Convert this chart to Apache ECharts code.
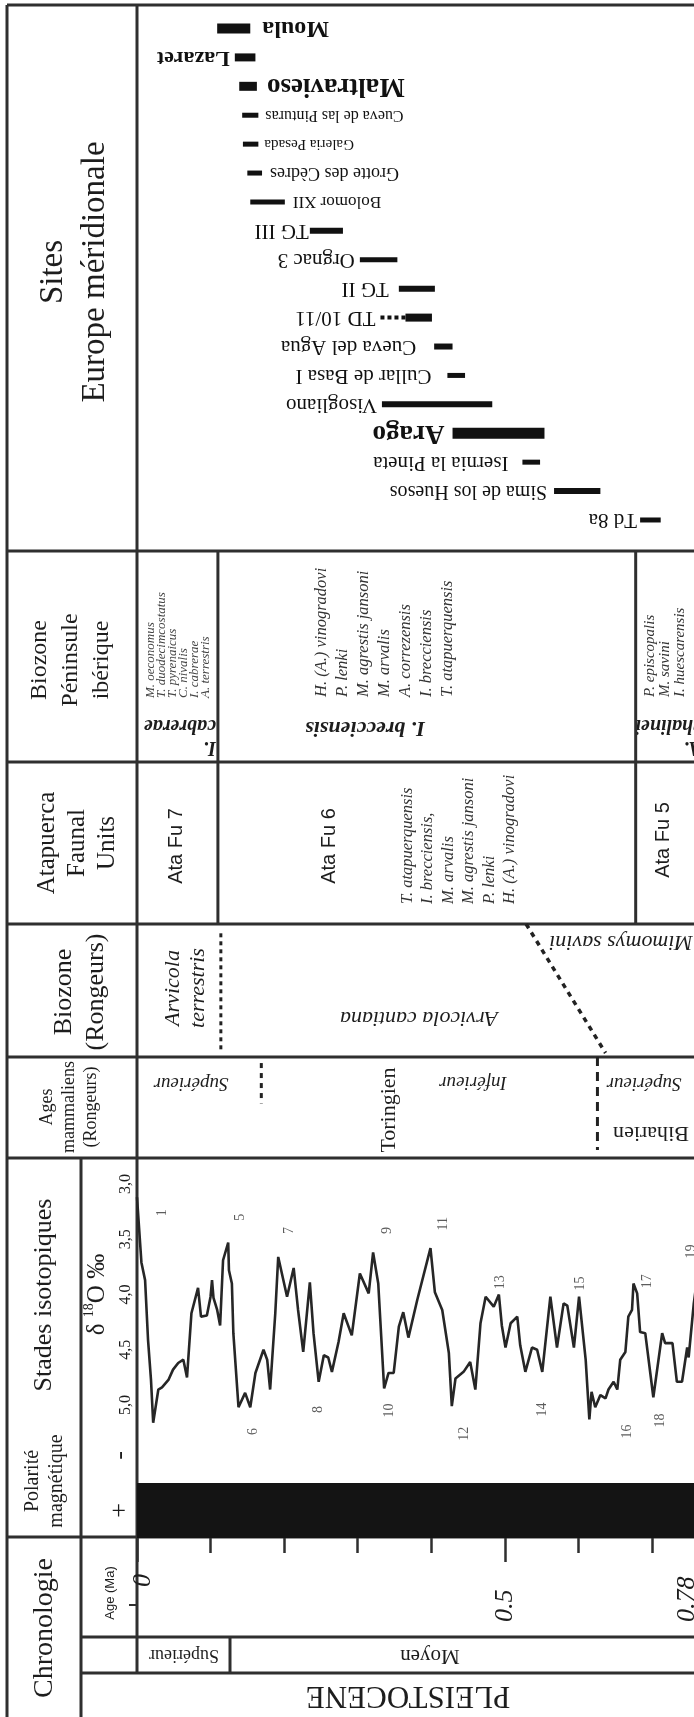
<!DOCTYPE html>
<html>
<head>
<meta charset="utf-8">
<title>Chronologie, biozones et sites du Pléistocène moyen</title>
<script src="https://cdn.jsdelivr.net/npm/echarts@6.0.0/dist/echarts.min.js"></script>
<style>
  html, body { margin: 0; padding: 0; background: #fff; }
  #chart { width: 694px; height: 1717px; }
</style>
</head>
<body>
<div id="chart"></div>
<script>
// ---------- values (ages in Ma) ----------
const siteNames = ['Moula', 'Lazaret', 'Maltravieso', 'Cueva de las Pinturas', 'Galeria Pesada',
  'Grotte des Cèdres', 'Bolomor XII', 'TG III', 'Orgnac 3', 'TG II', 'TD 10/11', 'Cueva del Agua',
  'Cullar de Basa I', 'Visogliano', 'Arago', 'Isernia la Pineta', 'Sima de los Huesos', 'Td 8a'];
const siteStart = [0.109, 0.133, 0.139, 0.143, 0.144, 0.150, 0.154, 0.235, 0.303, 0.356, 0.365, 0.404,
  0.422, 0.333, 0.429, 0.524, 0.567, 0.684];
const siteEnd = [0.154, 0.161, 0.163, 0.165, 0.165, 0.170, 0.201, 0.280, 0.354, 0.405, 0.401, 0.429,
  0.446, 0.483, 0.554, 0.548, 0.630, 0.712];
// uncertain (dashed) older extension
const siteDashedFrom = [null, null, null, null, null, null, null, null, null, null, 0.331, null,
  null, null, null, null, null, null];

// delta 18O curve
const isoAge = [0.000, 0.006, 0.011, 0.015, 0.019, 0.022, 0.029, 0.034, 0.043, 0.049,
  0.056, 0.063, 0.068, 0.074, 0.083, 0.087, 0.095, 0.100, 0.102, 0.104,
  0.109, 0.113, 0.117, 0.124, 0.125, 0.129, 0.131, 0.138, 0.147, 0.154,
  0.161, 0.172, 0.177, 0.181, 0.188, 0.192, 0.204, 0.213, 0.219, 0.226,
  0.235, 0.240, 0.247, 0.254, 0.260, 0.265, 0.274, 0.281, 0.292, 0.303,
  0.315, 0.321, 0.328, 0.336, 0.342, 0.349, 0.356, 0.362, 0.369, 0.381,
  0.399, 0.405, 0.415, 0.424, 0.428, 0.433, 0.444, 0.453, 0.460, 0.467,
  0.474, 0.485, 0.492, 0.496, 0.501, 0.508, 0.517, 0.521, 0.528, 0.537,
  0.544, 0.551, 0.562, 0.571, 0.580, 0.585, 0.594, 0.601, 0.610, 0.615,
  0.618, 0.623, 0.630, 0.637, 0.641, 0.648, 0.653, 0.657, 0.664, 0.668,
  0.673, 0.675, 0.680, 0.684, 0.691, 0.702, 0.714, 0.718, 0.728, 0.734,
  0.741, 0.748, 0.750, 0.757, 0.763];
const isoDelta = [3.12, 3.71, 3.87, 4.41, 4.77, 5.16, 4.86, 4.84, 4.77, 4.68,
  4.62, 4.59, 4.75, 4.17, 3.94, 4.20, 4.19, 4.02, 3.87, 4.03,
  4.14, 4.28, 3.69, 3.53, 3.78, 3.90, 4.35, 5.02, 4.89, 5.02,
  4.71, 4.50, 4.59, 4.86, 4.17, 3.66, 4.02, 3.76, 4.14, 4.52,
  3.89, 4.35, 4.79, 4.55, 4.57, 4.70, 4.43, 4.17, 4.37, 3.81,
  3.99, 3.62, 3.90, 4.85, 4.71, 4.71, 4.29, 4.16, 4.39, 4.05,
  3.58, 3.98, 4.14, 4.53, 5.01, 4.76, 4.70, 4.61, 4.86, 4.26,
  4.02, 4.11, 4.00, 4.28, 4.48, 4.26, 4.20, 4.46, 4.70, 4.48,
  4.50, 4.70, 4.02, 4.48, 4.08, 4.10, 4.48, 4.02, 4.59, 5.13,
  4.88, 5.02, 4.91, 4.94, 4.86, 4.79, 4.86, 4.59, 4.52, 4.20,
  4.14, 3.90, 3.99, 4.34, 4.35, 4.93, 4.35, 4.44, 4.44, 4.79,
  4.79, 4.48, 4.57, 4.08, 3.78];

// marine isotope stage numbers and where they are written
const stageNums = ['1', '5', '6', '7', '8', '9', '10', '11', '12', '13', '14', '15', '16', '17', '18', '19'];
const stageAge = [0.034, 0.140, 0.158, 0.207, 0.246, 0.341, 0.343, 0.416, 0.445, 0.494, 0.551, 0.603, 0.667, 0.694, 0.712, 0.754];
const stageDelta = [3.26, 3.30, 5.24, 3.42, 5.04, 3.42, 5.05, 3.36, 5.26, 3.89, 5.04, 3.90, 5.24, 3.88, 5.14, 3.61];

// magnetic polarity (Brunhes, normal)
const polaritySigns = ['+', '-'];
const polarityFrom = [0];
const polarityTo = [0.78];
const polarityValue = ['+'];

// tick labels
const ageLabels = [0, 0.5, 0.78];
const deltaTicks = [3.0, 3.5, 4.0, 4.5, 5.0];

// zone boundaries
const peninsulaZones = ['I.\ncabrerae', 'I. brecciensis', 'A.\nchalinei'];
const peninsulaBounds = [0.110, 0.678];
const ataFuUnits = ['Ata Fu 7', 'Ata Fu 6', 'Ata Fu 5'];
const ataFuBounds = [0.110, 0.678];
const rodentZones = ['Arvicola\nterrestris', 'Arvicola cantiana', 'Mimomys savini'];
const rodentBound = [0.114];
const rodentDiagonal = [0.529, 0.637];
const mammalAges = ['Toringien', 'Biharien'];
const mammalSub = ['Supérieur', 'Inférieur', 'Supérieur'];
const mammalSubBound = [0.169];
const mammalBound = [0.626];

const spCabrerae = ['M. oeconomus', 'T. duodecimcostatus', 'T. pyrenaicus', 'C. nivalis', 'I. cabrerae', 'A. terrestris'];
const spBrecciensis = ['H. (A.) vinogradovi', 'P. lenki', 'M. agrestis jansoni', 'M. arvalis', 'A. correzensis', 'I. brecciensis', 'T. atapuerquensis'];
const spChalinei = ['P. episcopalis', 'M. savini', 'I. huescarensis'];
const spAtaFu6 = ['T. atapuerquensis', 'I. brecciensis,', 'M. arvalis', 'M. agrestis jansoni', 'P. lenki', 'H. (A.) vinogradovi'];

// ---------- look ----------
const SERIF = '"Liberation Serif", "Times New Roman", serif';
const SANS = '"Liberation Sans", Arial, sans-serif';
const INK = '#1d1d1d';
const RULE = '#2f2f2f';
const AGE_MAX = 0.76;            // the figure is cut at the right edge
const X_LEFT = 137, X_WIDTH = 559;
const UP = Math.PI / 2, FLIP = Math.PI;

const siteLook = {
  'Moula': { bar: 10, size: 24, bold: true, side: 'right', gap: 12 },
  'Lazaret': { bar: 8, size: 22, bold: true, side: 'left', gap: 5 },
  'Maltravieso': { bar: 9, size: 27, bold: true, side: 'right', gap: 10 },
  'Cueva de las Pinturas': { bar: 5, size: 16, side: 'right', gap: 7 },
  'Galeria Pesada': { bar: 5, size: 15, side: 'right', gap: 6 },
  'Grotte des Cèdres': { bar: 5, size: 18, side: 'right', gap: 8 },
  'Bolomor XII': { bar: 5, size: 17, side: 'right', gap: 8 },
  'TG III': { bar: 6, size: 21, side: 'left', gap: 1 },
  'Orgnac 3': { bar: 5, size: 21, side: 'left', gap: 5 },
  'TG II': { bar: 6, size: 21, side: 'left', gap: 10 },
  'TD 10/11': { bar: 8, size: 21, side: 'left', gap: 5 },
  'Cueva del Agua': { bar: 6, size: 21, side: 'left', gap: 18 },
  'Cullar de Basa I': { bar: 5, size: 21, side: 'left', gap: 16 },
  'Visogliano': { bar: 6, size: 21, side: 'left', gap: 5 },
  'Arago': { bar: 11, size: 27, bold: true, side: 'left', gap: 8 },
  'Isernia la Pineta': { bar: 5, size: 21, side: 'left', gap: 14 },
  'Sima de los Huesos': { bar: 6, size: 20, side: 'left', gap: 7 },
  'Td 8a': { bar: 5, size: 21, side: 'left', gap: 3 }
};

function T(text, x, y, rot, font, opt) {
  return { type: 'text', x: x, y: y, rotation: rot, silent: true,
    style: Object.assign({ text: text, font: font, fill: INK, align: 'center', verticalAlign: 'middle' }, opt || {}) };
}
function L(x1, y1, x2, y2, w) {
  return { type: 'line', silent: true, shape: { x1: x1, y1: y1, x2: x2, y2: y2 },
    style: { stroke: RULE, lineWidth: w || 3 } };
}

// table frame
const elements = [
  L(7, 5, 694, 5), L(7, 5, 7, 1717), L(137, 5, 137, 1673), L(81, 1158, 81, 1717),
  L(7, 551, 694, 551), L(7, 762, 694, 762), L(7, 924, 694, 924), L(7, 1057, 694, 1057),
  L(7, 1158, 694, 1158), L(7, 1537, 694, 1537),
  L(81, 1637, 694, 1637), L(81, 1673, 694, 1673), L(230, 1637, 230, 1673),
  L(129, 1605, 137, 1605, 2),
  // row headers
  T('Sites\nEurope méridionale', 74, 272, UP, '33px ' + SERIF, { lineHeight: 42 }),
  T('Biozone\nPéninsule\nibérique', 71, 660, UP, '24px ' + SERIF, { lineHeight: 31 }),
  T('Atapuerca\nFaunal\nUnits', 77, 843, UP, '25px ' + SERIF, { lineHeight: 30 }),
  T('Biozone\n(Rongeurs)', 80, 992, UP, '26px ' + SERIF, { lineHeight: 32 }),
  T('Ages\nmammaliens\n(Rongeurs)', 69, 1107, UP, '18px ' + SERIF, { lineHeight: 22 }),
  T('Stades isotopiques', 44, 1295, UP, '26px ' + SERIF),
  T('Polarité\nmagnétique', 45, 1481, UP, '20px ' + SERIF, { lineHeight: 24 }),
  T('Chronologie', 45, 1628, UP, '28px ' + SERIF),
  T('Age (Ma)', 110, 1593, UP, '13px ' + SANS),
  // Biozone Péninsule ibérique
  T(spCabrerae.join('\n'), 145, 698, UP, 'italic 13px ' + SERIF, { align: 'left', verticalAlign: 'top', lineHeight: 11, fill: '#444' }),
  T(peninsulaZones[0], 216, 758, FLIP, 'italic bold 20px ' + SERIF, { align: 'left', verticalAlign: 'top', lineHeight: 22 }),
  T(spBrecciensis.join('\n'), 311, 697, UP, 'italic 16.5px ' + SERIF, { align: 'left', verticalAlign: 'top', lineHeight: 21, fill: '#333' }),
  T(peninsulaZones[1], 365, 728, FLIP, 'italic bold 22px ' + SERIF),
  T(spChalinei.join('\n'), 643, 697, UP, 'italic 15px ' + SERIF, { align: 'left', verticalAlign: 'top', lineHeight: 15, fill: '#333' }),
  T(peninsulaZones[2], 702, 758, FLIP, 'italic bold 20px ' + SERIF, { align: 'left', verticalAlign: 'top', lineHeight: 22 }),
  // Atapuerca Faunal Units
  T(ataFuUnits[0], 176, 846, UP, '20px ' + SANS),
  T(ataFuUnits[1], 329, 846, UP, '20px ' + SANS),
  T(spAtaFu6.join('\n'), 397, 904, UP, 'italic 16.5px ' + SERIF, { align: 'left', verticalAlign: 'top', lineHeight: 20.5, fill: '#333' }),
  T(ataFuUnits[2], 663, 840, UP, '20px ' + SANS),
  // Biozone (Rongeurs)
  T(rodentZones[0], 186, 988, UP, 'italic 22px ' + SERIF, { lineHeight: 25 }),
  T(rodentZones[1], 419, 1018, FLIP, 'italic 22px ' + SERIF),
  T(rodentZones[2], 621, 942, FLIP, 'italic 22px ' + SERIF),
  // Ages mammaliens
  T(mammalSub[0], 191, 1083, FLIP, 'italic 19px ' + SERIF),
  T(mammalAges[0], 389, 1110, UP, '22px ' + SERIF),
  T(mammalSub[1], 473, 1082, FLIP, 'italic 19px ' + SERIF),
  T(mammalSub[2], 644, 1083, FLIP, 'italic 19px ' + SERIF),
  T(mammalAges[1], 651, 1133, FLIP, '22px ' + SERIF),
  // Chronologie
  T('Supérieur', 184, 1655, FLIP, '18px ' + SERIF),
  T('Moyen', 430, 1656, FLIP, '21px ' + SERIF),
  T('PLEISTOCENE', 408, 1695, FLIP, '31px ' + SERIF)
];
elements.forEach(function (e, i) { e.id = 'g' + i; });

function ageAxis(gridIndex, extra) {
  return Object.assign({ gridIndex: gridIndex, type: 'value', min: 0, max: AGE_MAX, show: false,
    splitLine: { show: false } }, extra || {});
}
function band(gridIndex) {
  return { gridIndex: gridIndex, type: 'value', min: 0, max: 1, show: false };
}
function gridAt(top, height) {
  return { left: X_LEFT, width: X_WIDTH, top: top, height: height, outerBoundsMode: 'none' };
}
// boundary lines drawn through the age scale; from/to are fractions of the row height
function boundary(axis, data, style, fromFrac, toFrac) {
  return {
    type: 'custom', xAxisIndex: axis, yAxisIndex: axis, silent: true,
    encode: { x: [0, 1] },
    data: data,
    renderItem: function (params, api) {
      const a = api.coord([api.value(0), toFrac]);
      const b = api.coord([api.value(1), fromFrac]);
      return { type: 'line', shape: { x1: a[0], y1: a[1], x2: b[0], y2: b[1] },
        style: Object.assign({ stroke: RULE, fill: null }, style) };
    }
  };
}

const chart = echarts.init(document.getElementById('chart'), null, { renderer: 'canvas' });
const option = {
  animation: false,
  backgroundColor: '#fff',
  grid: [
    gridAt(14.04, 520.4),   // sites
    gridAt(551, 211),       // biozone péninsule ibérique
    gridAt(762, 162),       // atapuerca faunal units
    gridAt(924, 133),       // biozone rongeurs
    gridAt(1057, 101),      // ages mammaliens
    gridAt(1128.75, 331.5), // isotope curve
    gridAt(1428, 110),      // polarity
    gridAt(1630, 20)        // age labels
  ],
  xAxis: [
    ageAxis(0), ageAxis(1), ageAxis(2), ageAxis(3), ageAxis(4), ageAxis(5),
    ageAxis(6, { show: true, position: 'bottom', interval: 0.1, axisLine: { show: false },
      axisTick: { show: true, length: 15, lineStyle: { color: RULE, width: 2.5 } }, axisLabel: { show: false } }),
    ageAxis(7, { show: true, position: 'top', interval: 0.5, axisLine: { show: false }, axisTick: { show: false },
      axisLabel: {
        show: true, rotate: 90, margin: 8, color: INK, fontFamily: SERIF, fontStyle: 'italic', fontSize: 26,
        showMaxLabel: false,
        formatter: function (v) {
          const lab = ageLabels.find(function (a) { return Math.abs(a - v) < 1e-6; });
          if (lab === undefined) return '';
          return lab === 0 ? '{z|0}' : '{n|' + lab + '}';
        },
        rich: {
          z: { fontFamily: SERIF, fontStyle: 'italic', fontSize: 26, color: INK, padding: [12, 0, 0, 35] },
          n: { fontFamily: SERIF, fontStyle: 'italic', fontSize: 26, color: INK }
        }
      } }),
    ageAxis(6, { show: true, position: 'bottom', interval: 0.5, axisLine: { show: false },
      axisTick: { show: true, length: 24, lineStyle: { color: RULE, width: 2.5 } }, axisLabel: { show: false } })
  ],
  yAxis: [
    { gridIndex: 0, type: 'category', data: siteNames, inverse: true, show: false },
    band(1), band(2), band(3), band(4),
    {
      gridIndex: 5, type: 'value', min: 2.5, max: 5.5, interval: 0.5, inverse: true,
      axisLine: { show: false }, axisTick: { show: false }, splitLine: { show: false },
      axisLabel: {
        show: true, rotate: 90, margin: 3, color: INK, fontFamily: SERIF, fontSize: 16,
        showMinLabel: false, showMaxLabel: false,
        formatter: function (v) {
          const t = deltaTicks.find(function (d) { return Math.abs(d - v) < 1e-6; });
          return t === undefined ? '' : t.toFixed(1).replace('.', ',');
        }
      },
      name: '{d|δ }{s|18}{d|O ‰}', nameLocation: 'middle', nameRotate: 90, nameGap: 21,
      nameTextStyle: {
        rich: {
          d: { fontFamily: SERIF, fontSize: 25, color: INK },
          s: { fontFamily: SERIF, fontSize: 14, color: INK, verticalAlign: 'top', lineHeight: 30 }
        }
      }
    },
    {
      gridIndex: 6, type: 'category', data: polaritySigns,
      axisLine: { show: false }, axisTick: { show: false },
      axisLabel: { rotate: 90, margin: 4, color: INK, fontFamily: SERIF, fontSize: 26 }
    },
    { gridIndex: 7, type: 'value', show: false }
  ],
  series: [
    {
      name: 'Sites', type: 'custom', xAxisIndex: 0, yAxisIndex: 0, silent: true,
      encode: { y: 0, x: [1, 2] },
      data: siteNames.map(function (n, i) { return [i, siteStart[i], siteEnd[i]]; }),
      renderItem: function (params, api) {
        const i = api.value(0);
        const name = siteNames[i];
        const look = siteLook[name];
        const y = api.coord([0, i])[1];
        const xs = api.coord([api.value(1), i])[0];
        const xe = api.coord([api.value(2), i])[0];
        const kids = [{ type: 'rect', shape: { x: xs, y: y - look.bar / 2, width: xe - xs, height: look.bar },
          style: { fill: '#111' } }];
        let left = xs;
        if (siteDashedFrom[i] != null) {
          const xd = api.coord([siteDashedFrom[i], i])[0];
          kids.push({ type: 'line', shape: { x1: xd, y1: y, x2: xs, y2: y },
            style: { stroke: '#111', lineWidth: 4, lineDash: [4, 3] } });
          left = xd;
        }
        const right = look.side === 'right';
        kids.push({
          type: 'text', x: right ? xe + look.gap : left - look.gap, y: y, rotation: Math.PI,
          style: { text: name, align: right ? 'right' : 'left', verticalAlign: 'middle', fill: '#111',
            font: (look.bold ? 'bold ' : '') + look.size + 'px ' + SERIF }
        });
        return { type: 'group', children: kids };
      }
    },
    boundary(1, peninsulaBounds.map(function (v) { return [v, v]; }), { lineWidth: 3 }, 0, 1),
    boundary(2, ataFuBounds.map(function (v) { return [v, v]; }), { lineWidth: 3 }, 0, 1),
    boundary(3, rodentBound.map(function (v) { return [v, v]; }), { lineWidth: 3, lineDash: [4, 4], stroke: '#222' }, 0.05, 0.93),
    boundary(3, [rodentDiagonal], { lineWidth: 3.5, lineDash: [5, 5], stroke: '#222' }, 0.03, 1),
    boundary(4, mammalSubBound.map(function (v) { return [v, v]; }), { lineWidth: 3, lineDash: [5, 5], stroke: '#222' }, 0.54, 0.94),
    boundary(4, mammalBound.map(function (v) { return [v, v]; }), { lineWidth: 3, lineDash: [9, 6], stroke: '#222' }, 0.08, 1),
    {
      name: 'δ18O', type: 'line', xAxisIndex: 5, yAxisIndex: 5, silent: true,
      data: isoAge.map(function (a, i) { return [a, isoDelta[i]]; }),
      symbol: 'none', smooth: false, clip: true,
      lineStyle: { color: '#262626', width: 2.6 }
    },
    {
      name: 'Stades', type: 'scatter', xAxisIndex: 5, yAxisIndex: 5, silent: true,
      data: stageAge.map(function (a, i) { return [a, stageDelta[i], stageNums[i]]; }),
      symbolSize: 0,
      label: { show: true, position: 'inside', rotate: 90, formatter: function (p) { return p.value[2]; },
        fontFamily: SERIF, fontSize: 14, color: '#333' }
    },
    {
      name: 'Polarité', type: 'custom', xAxisIndex: 6, yAxisIndex: 6, silent: true,
      encode: { x: [0, 1], y: 2 },
      data: polarityFrom.map(function (f, i) { return [f, polarityTo[i], polarityValue[i]]; }),
      renderItem: function (params, api) {
        const a = api.coord([api.value(0), api.value(2)]);
        const b = api.coord([api.value(1), api.value(2)]);
        const h = api.size([0, 1])[1];
        const shape = echarts.graphic.clipRectByRect(
          { x: a[0], y: a[1] - h / 2, width: b[0] - a[0], height: h },
          { x: params.coordSys.x, y: params.coordSys.y, width: params.coordSys.width, height: params.coordSys.height });
        return shape && { type: 'rect', shape: shape, style: { fill: '#141414' } };
      }
    }
  ],
  graphic: { elements: elements }
};
chart.setOption(option);

// age labels beyond the cropped right edge are pulled back inside, as in the figure
const extra = [];
ageLabels.forEach(function (a, k) {
  if (a <= AGE_MAX) return;
  const px = chart.convertToPixel({ xAxisIndex: 7 }, a);
  extra.push({ id: 'agelab' + k, type: 'text', silent: true, x: Math.min(px, 694 - 7), y: 1622, rotation: UP,
    style: { text: String(a), font: 'italic 26px ' + SERIF, fill: INK, align: 'left', verticalAlign: 'middle' } });
});
if (extra.length) chart.setOption({ graphic: { elements: extra } });
</script>
</body>
</html>
